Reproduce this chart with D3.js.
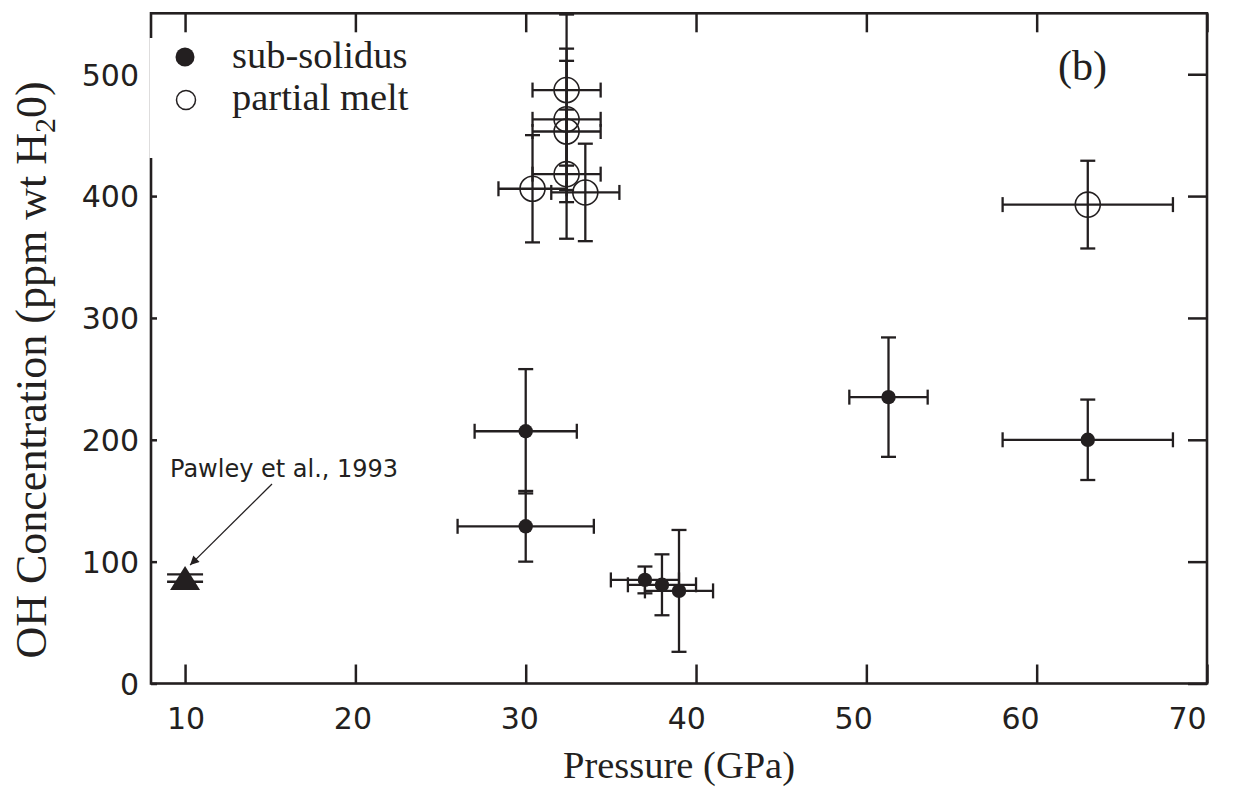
<!DOCTYPE html>
<html>
<head>
<meta charset="utf-8">
<script src="https://cdn.jsdelivr.net/npm/d3@7"></script>
<style>
  body { margin: 0; background: #fff; }
  svg { display: block; }
</style>
</head>
<body>
<div id="figure-div"></div>
<script>
// sub-solidus samples (filled circles)
var subP      = [30, 30, 37, 38, 39, 51.3, 63];
var subOH     = [207, 129, 85, 81, 76, 235, 200];
var subPErr   = [3, 4, 2, 2, 2, 2.3, 5];
var subOHErr  = [51, 29, 11, 25, 50, 49, 33];

// partial melt samples (open circles)
var meltP     = [32.4, 32.4, 32.4, 32.4, 30.4, 33.5, 63];
var meltOH    = [487, 463, 453, 418, 406, 403, 393];
var meltPErr  = [2, 2, 2, 2, 2, 2, 5];
var meltOHErr = [62, 58, 58, 53, 44, 40, 36];

// Pawley et al., 1993
var pawleyP = [10];
var pawleyOH = [86.5];
var pawleyOHErr = [3];

var xTicks = [10, 20, 30, 40, 50, 60, 70];
var yTicks = [0, 100, 200, 300, 400, 500];
var legendLabels = ["sub-solidus", "partial melt"];

var w = 1242, h = 788;
var pLeft = 151, pRight = 1207, pTop = 13.3, pBottom = 683.5;
var ink = "#231f20";
var serif = "'Liberation Serif', 'Times New Roman', serif";
var sans = "'DejaVu Sans', sans-serif";

var svg = d3.select("#figure-div").append("svg")
	.attr("width", w)
	.attr("height", h);

var xScale = d3.scaleLinear().domain([8, 70]).range([pLeft, pRight]);
var yScale = d3.scaleLinear().domain([0, 550]).range([pBottom, pTop]);
// the printed x labels sit on a slightly tighter spacing than the ticks
var xLabelScale = d3.scaleLinear().domain([10, 70]).range([185.5, 1187]);

function toRows(p, oh, pe, ohe) {
	return p.map(function(d, i) { return { p: d, oh: oh[i], pe: pe[i], ohe: ohe[i] }; });
}
var subData = toRows(subP, subOH, subPErr, subOHErr);
var meltData = toRows(meltP, meltOH, meltPErr, meltOHErr);

// axes, ticks pointing inward
var tickLen = 19;
svg.append("g")
	.attr("transform", "translate(0," + pBottom + ")")
	.call(d3.axisBottom(xScale).tickValues(xTicks).tickSizeInner(-tickLen).tickSizeOuter(0).tickPadding(tickLen + 5))
	.call(function(g) {
		g.select(".domain").remove();
		g.selectAll("line").attr("stroke", ink).attr("stroke-width", 2.5);
		g.selectAll("text")
			.attr("x", function(d) { return xLabelScale(d) - xScale(d); })
			.attr("font-family", sans).attr("font-size", 30).attr("fill", ink);
	});
svg.append("g")
	.attr("transform", "translate(0," + pTop + ")")
	.call(d3.axisTop(xScale).tickValues(xTicks).tickSizeInner(-tickLen).tickSizeOuter(0).tickFormat(""))
	.call(function(g) {
		g.select(".domain").remove();
		g.selectAll("line").attr("stroke", ink).attr("stroke-width", 2.5);
	});
svg.append("g")
	.attr("transform", "translate(" + pLeft + ",0)")
	.call(d3.axisLeft(yScale).tickValues(yTicks).tickSizeInner(4).tickSizeOuter(0).tickPadding(8))
	.call(function(g) {
		g.select(".domain").remove();
		g.selectAll("line").attr("stroke", ink).attr("stroke-width", 2.5).attr("x2", 6);
		g.selectAll("text").attr("font-family", sans).attr("font-size", 30).attr("fill", ink).attr("dy", "0.36em");
	});
svg.append("g")
	.attr("transform", "translate(" + pRight + ",0)")
	.call(d3.axisRight(yScale).tickValues(yTicks).tickSizeInner(-tickLen).tickSizeOuter(0).tickFormat(""))
	.call(function(g) {
		g.select(".domain").remove();
		g.selectAll("line").attr("stroke", ink).attr("stroke-width", 2.5);
	});

// frame
svg.append("rect")
	.attr("x", pLeft).attr("y", pTop)
	.attr("width", pRight - pLeft).attr("height", pBottom - pTop)
	.attr("fill", "none")
	.attr("stroke", ink)
	.attr("stroke-width", 2.6);

// error bars
var cap = 7.5;
function errorBars(data, cls) {
	var g = svg.append("g").attr("class", cls)
		.attr("stroke", ink).attr("stroke-width", 2.3).attr("fill", "none");
	var bars = g.selectAll("g").data(data).enter().append("g");
	bars.append("line")
		.attr("x1", function(d) { return xScale(d.p); }).attr("x2", function(d) { return xScale(d.p); })
		.attr("y1", function(d) { return yScale(d.oh - d.ohe); }).attr("y2", function(d) { return yScale(d.oh + d.ohe); });
	bars.append("line")
		.attr("x1", function(d) { return xScale(d.p - d.pe); }).attr("x2", function(d) { return xScale(d.p + d.pe); })
		.attr("y1", function(d) { return yScale(d.oh); }).attr("y2", function(d) { return yScale(d.oh); });
	[-1, 1].forEach(function(s) {
		bars.append("line")
			.attr("x1", function(d) { return xScale(d.p) - cap; }).attr("x2", function(d) { return xScale(d.p) + cap; })
			.attr("y1", function(d) { return yScale(d.oh + s * d.ohe); }).attr("y2", function(d) { return yScale(d.oh + s * d.ohe); });
		bars.append("line")
			.attr("x1", function(d) { return xScale(d.p + s * d.pe); }).attr("x2", function(d) { return xScale(d.p + s * d.pe); })
			.attr("y1", function(d) { return yScale(d.oh) - cap; }).attr("y2", function(d) { return yScale(d.oh) + cap; });
	});
}
errorBars(meltData, "melt-err");
errorBars(subData, "sub-err");

svg.append("g").selectAll("circle")
	.data(meltData).enter().append("circle")
	.attr("cx", function(d) { return xScale(d.p); })
	.attr("cy", function(d) { return yScale(d.oh); })
	.attr("r", 12.5)
	.attr("fill", "none")
	.attr("stroke", ink)
	.attr("stroke-width", 1.6);

svg.append("g").selectAll("circle")
	.data(subData).enter().append("circle")
	.attr("cx", function(d) { return xScale(d.p); })
	.attr("cy", function(d) { return yScale(d.oh); })
	.attr("r", 7.2)
	.attr("fill", ink);

// Pawley point: triangle with its OH caps
var pawley = pawleyP.map(function(d, i) { return { p: d, oh: pawleyOH[i], ohe: pawleyOHErr[i] }; });
var pg = svg.append("g").selectAll("g").data(pawley).enter().append("g");
[-1, 1].forEach(function(s) {
	pg.append("line")
		.attr("x1", function(d) { return xScale(d.p) - 18; }).attr("x2", function(d) { return xScale(d.p) + 18; })
		.attr("y1", function(d) { return yScale(d.oh + s * d.ohe); }).attr("y2", function(d) { return yScale(d.oh + s * d.ohe); })
		.attr("stroke", ink).attr("stroke-width", 2.3);
});
pg.append("path")
	.attr("transform", function(d) { return "translate(" + xScale(d.p) + "," + yScale(d.oh) + ")"; })
	.attr("d", "M0,-12L15,12L-15,12Z")
	.attr("fill", ink);

// annotation
svg.append("defs").append("marker")
	.attr("id", "arrow")
	.attr("viewBox", "0 0 10 10")
	.attr("refX", 10).attr("refY", 5)
	.attr("markerWidth", 13).attr("markerHeight", 9)
	.attr("markerUnits", "userSpaceOnUse")
	.attr("orient", "auto")
	.append("path").attr("d", "M0,0L10,5L0,10Z").attr("fill", ink);

svg.append("text")
	.attr("x", 170).attr("y", 477)
	.attr("font-family", sans).attr("font-size", 24).attr("fill", ink)
	.text("Pawley et al., 1993");
svg.append("line")
	.attr("x1", 272).attr("y1", 484)
	.attr("x2", xScale(pawleyP[0]) + 5).attr("y2", yScale(pawleyOH[0]) - 13)
	.attr("stroke", ink).attr("stroke-width", 1.3)
	.attr("marker-end", "url(#arrow)");

// legend
var legend = svg.append("g");
legend.append("rect")
	.attr("x", pLeft - 1.5).attr("y", 38)
	.attr("width", 290).attr("height", 120)
	.attr("fill", "#fff");
legend.selectAll("text").data(legendLabels).enter().append("text")
	.attr("x", 232)
	.attr("y", function(d, i) { return 68 + i * 42; })
	.attr("font-family", serif).attr("font-size", 38.5).attr("fill", ink)
	.text(function(d) { return d; });
legend.append("circle").attr("cx", 185).attr("cy", 57).attr("r", 9.5).attr("fill", ink);
legend.append("circle").attr("cx", 186).attr("cy", 100).attr("r", 9.5)
	.attr("fill", "none").attr("stroke", ink).attr("stroke-width", 1.5);

svg.append("text")
	.attr("x", 1058).attr("y", 80)
	.attr("font-family", serif).attr("font-size", 42).attr("fill", ink)
	.text("(b)");

// axis titles
svg.append("text")
	.attr("x", (pLeft + pRight) / 2).attr("y", 778)
	.attr("text-anchor", "middle")
	.attr("font-family", serif).attr("font-size", 38.5).attr("fill", ink)
	.text("Pressure (GPa)");

var yt = svg.append("text")
	.attr("transform", "translate(46,370) rotate(-90)")
	.attr("text-anchor", "middle")
	.attr("font-family", serif).attr("font-size", 44).attr("fill", ink);
yt.append("tspan").text("OH Concentration (ppm wt H");
yt.append("tspan").attr("font-size", 30).attr("dy", 9).text("2");
yt.append("tspan").attr("dy", -9).text("0)");
</script>
</body>
</html>
